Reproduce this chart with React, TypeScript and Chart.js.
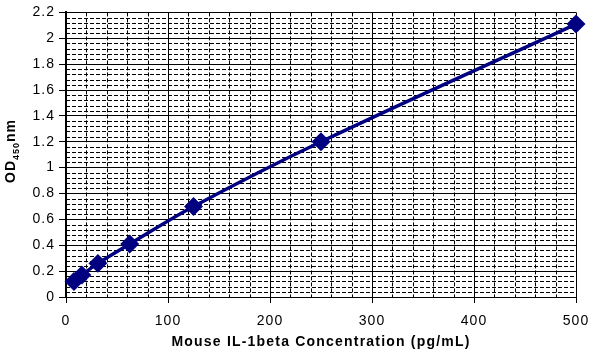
import React, { useEffect, useRef } from "react";
import { Chart, registerables } from "chart.js";

Chart.register(...registerables);

const concentrations = [7.8, 15.6, 31.25, 62.5, 125, 250, 500];
const odValues = [0.12, 0.17, 0.26, 0.41, 0.7, 1.2, 2.11];
const xTitle = "Mouse IL-1beta Concentration (pg/mL)";
const yTitleMain = "OD";
const yTitleSub = "450";
const yTitleEnd = "nm";

const FONT = "'Liberation Sans', Arial, sans-serif";

const minorGrid = {
  id: "minorGrid",
  beforeLayout(chart: any) {
    (chart.ctx as any).letterSpacing = "1px";
  },
  beforeDraw(chart: any) {
    (chart.ctx as any).letterSpacing = "1px";
  },
  beforeDatasetsDraw(chart: any) {
    const { ctx, chartArea, scales } = chart;
    const xs = scales.x;
    const ys = scales.y;
    ctx.save();
    ctx.strokeStyle = "#000";
    ctx.lineWidth = 1;
    ctx.setLineDash([4, 2]);
    for (let i = 1; i < 55; i++) {
      if (i % 5 === 0) continue;
      const v = i * 0.04;
      if (v > 2.2) break;
      const py = Math.round(ys.getPixelForValue(v)) + 0.5;
      ctx.beginPath();
      ctx.moveTo(chartArea.left, py);
      ctx.lineTo(chartArea.right, py);
      ctx.stroke();
    }
    for (let i = 1; i < 25; i++) {
      if (i % 5 === 0) continue;
      const v = i * 20;
      const px = Math.round(xs.getPixelForValue(v)) + 0.5;
      ctx.beginPath();
      ctx.moveTo(px, chartArea.top);
      ctx.lineTo(px, chartArea.bottom);
      ctx.stroke();
    }
    ctx.restore();
  },
  afterDraw(chart: any) {
    const { ctx, chartArea } = chart;
    ctx.save();
    ctx.fillStyle = "#000";
    // x title
    ctx.font = `bold 14px ${FONT}`;
    (ctx as any).letterSpacing = "1.2px";
    ctx.textAlign = "center";
    ctx.textBaseline = "middle";
    ctx.fillText(xTitle, (chartArea.left + chartArea.right) / 2, 342);
    // y title with subscript
    (ctx as any).letterSpacing = "1px";
    const mainFont = `bold 14px ${FONT}`;
    const subFont = `bold 9px ${FONT}`;
    ctx.font = mainFont;
    const w1 = ctx.measureText(yTitleMain).width;
    const w3 = ctx.measureText(yTitleEnd).width;
    ctx.font = subFont;
    const w2 = ctx.measureText(yTitleSub).width;
    const total = w1 + w2 + w3;
    ctx.translate(10, 151);
    ctx.rotate(-Math.PI / 2);
    ctx.textAlign = "left";
    ctx.textBaseline = "alphabetic";
    let x = -total / 2;
    ctx.font = mainFont;
    ctx.fillText(yTitleMain, x, 5);
    x += w1;
    ctx.font = subFont;
    ctx.fillText(yTitleSub, x, 8.5);
    x += w2;
    ctx.font = mainFont;
    ctx.fillText(yTitleEnd, x, 5);
    ctx.restore();
  },
};

export default function App() {
  const ref = useRef<HTMLCanvasElement | null>(null);
  useEffect(() => {
    if (!ref.current) return;
    const chart = new Chart(ref.current, {
      type: "scatter",
      data: {
        datasets: [
          {
            data: concentrations.map((c, i) => ({ x: c, y: odValues[i] })),
            showLine: true,
            borderColor: "#000080",
            backgroundColor: "#000080",
            borderWidth: 3.5,
            tension: 0.35,
            pointStyle: "rectRot",
            pointRadius: 7,
            pointHoverRadius: 7,
            clip: false,
          } as any,
        ],
      },
      options: {
        responsive: false,
        animation: false,
        layout: { padding: { top: 11, right: 27, left: 0, bottom: 0 } },
        plugins: {
          legend: { display: false },
          tooltip: { enabled: false },
        },
        scales: {
          x: {
            type: "linear",
            min: 0,
            max: 500,
            afterFit(scale: any) {
              scale.height = 57;
            },
            ticks: {
              stepSize: 100,
              color: "#000",
              font: { family: FONT, size: 14 },
              padding: 10,
              maxRotation: 0,
            },
            grid: { color: "#000", lineWidth: 1, tickLength: 6 },
            border: { color: "#000", width: 1 },
          },
          y: {
            type: "linear",
            min: 0,
            max: 2.2,
            afterFit(scale: any) {
              scale.width = 66;
            },
            ticks: {
              stepSize: 0.2,
              color: "#000",
              font: { family: FONT, size: 14 },
              padding: 4,
              callback: (v: any) => String(Math.round(Number(v) * 10) / 10),
            },
            grid: { color: "#000", lineWidth: 1, tickLength: 7 },
            border: { color: "#000", width: 2 },
          },
        },
      },
      plugins: [minorGrid],
    });
    return () => chart.destroy();
  }, []);
  return (
    <div style={{ position: "fixed", left: 0, top: 0, width: 603, height: 354, background: "#fff" }}>
      <canvas ref={ref} width={603} height={354} style={{ display: "block" }} />
    </div>
  );
}
